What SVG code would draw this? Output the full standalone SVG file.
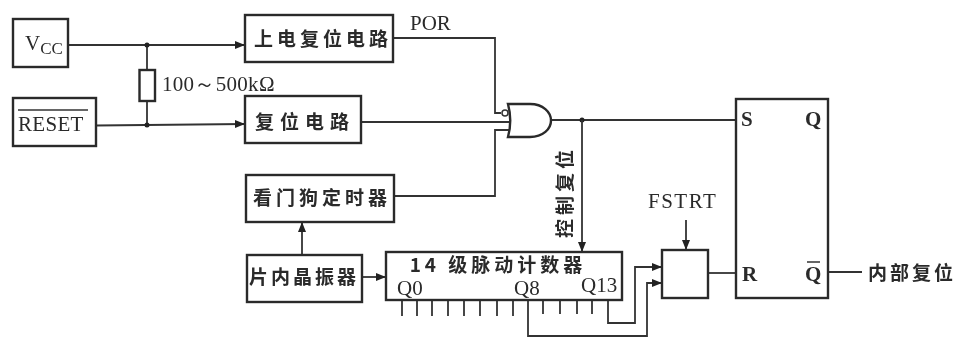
<svg xmlns="http://www.w3.org/2000/svg" width="957" height="338" viewBox="0 0 957 338">
<style>
.b{fill:#fff;stroke:#2a2a2a;stroke-width:2.4}
.w{fill:none;stroke:#333;stroke-width:1.8}
.t{fill:#2a2a2a;font-family:"Liberation Serif",serif;font-size:21px}
.c{fill:#2a2a2a;font-family:"Noto Sans CJK SC",sans-serif;font-size:19px;font-weight:700;text-anchor:middle}
text{filter:url(#s)}
</style>
<defs>
<filter id="s" x="-5%" y="-5%" width="110%" height="110%"><feGaussianBlur stdDeviation="0.45"/></filter>
<marker id="a" markerUnits="userSpaceOnUse" markerWidth="11" markerHeight="10" refX="10" refY="5" orient="auto"><path d="M0 1L10 5L0 9Z" fill="#222"/></marker>
</defs>
<rect width="957" height="338" fill="#fff"/>
<g id="connectors">
<path class="w" d="M68 45H245" marker-end="url(#a)"/>
<path class="w" d="M96 125.500L245 124" marker-end="url(#a)"/>
<path class="w" d="M147 45V70M147 101V125"/>
<circle cx="147" cy="45" r="2.500" fill="#222"/><circle cx="147" cy="125" r="2.500" fill="#222"/>
<path class="w" d="M393 38H495V113H501"/>
<path class="w" d="M361 122H510" stroke-width="1.500"/>
<path class="w" d="M394 196H495V130H510"/>
<path class="w" d="M551 120H736"/>
<circle cx="582" cy="120" r="2.500" fill="#222"/>
<path class="w" d="M582 120V252" marker-end="url(#a)"/>
<path class="w" d="M302 255V222" marker-end="url(#a)"/>
<path class="w" d="M362 277H386" marker-end="url(#a)"/>
<path class="w" d="M686 220V250" marker-end="url(#a)"/>
<path class="w" d="M708 273H736"/>
<path class="w" d="M828 272H862"/>
<path class="w" d="M608 300V323H635V267H662" marker-end="url(#a)"/>
<path class="w" d="M528 300V336H647V283H662" marker-end="url(#a)"/>
<path class="w" d="M402 300V316M417 300V316M432 300V316M448 300V316M464 300V316M480 300V316M497 300V316M513 300V316M543 300V314M560 300V314M577 300V314M592 300V314"/>
</g>
<g id="vcc"><rect class="b" x="13" y="19" width="55" height="48"/><text class="t" x="25" y="50" font-size="22">V<tspan font-size="17" dy="4">CC</tspan></text></g>
<g id="reset"><rect class="b" x="13" y="98" width="83" height="48"/><path d="M18 110H88" stroke="#333" stroke-width="1.500"/><text class="t" x="18" y="131" letter-spacing="0.300">RESET</text></g>
<g id="resistor"><rect class="b" x="139.500" y="70" width="15.500" height="31" stroke-width="1.800"/><text class="t" x="162" y="91" letter-spacing="0.300">100～500kΩ</text></g>
<g id="por-circuit"><rect class="b" x="245" y="15" width="148" height="47"/><text class="c" x="323" y="46" letter-spacing="4">上电复位电路</text><text class="t" x="410" y="30">POR</text></g>
<g id="reset-circuit"><rect class="b" x="245" y="96" width="116" height="47"/><text class="c" x="305" y="129" letter-spacing="6">复位电路</text></g>
<g id="watchdog"><rect class="b" x="246" y="175" width="148" height="47"/><text class="c" x="322" y="205" letter-spacing="4">看门狗定时器</text></g>
<g id="oscillator"><rect class="b" x="247" y="255" width="115" height="47"/><text class="c" x="304" y="284" letter-spacing="3">片内晶振器</text></g>
<g id="counter"><rect class="b" x="386" y="252" width="236" height="48"/>
<text class="c" x="498" y="272" letter-spacing="4">14 级脉动计数器</text>
<text class="t" x="397" y="295">Q0</text><text class="t" x="514" y="295">Q8</text><text class="t" x="581" y="292">Q13</text></g>
<g id="fstrt"><rect class="b" x="662" y="250" width="46" height="48"/><text class="t" x="648" y="208" letter-spacing="1.500">FSTRT</text></g>
<g id="flipflop"><rect class="b" x="736" y="99" width="92" height="199"/>
<text class="t" x="741" y="126" font-weight="700">S</text><text class="t" x="805" y="126" font-weight="700">Q</text>
<text class="t" x="742" y="281" font-weight="700">R</text><text class="t" x="805" y="281" font-weight="700">Q</text><path d="M807 262H820" stroke="#333" stroke-width="1.500"/></g>
<text class="c" x="912" y="280" letter-spacing="3">内部复位</text>
<text class="c" transform="translate(572 192) rotate(-90)" letter-spacing="4">控制复位</text>
<path d="M508 104H530C543 104 551 112 551 120.500C551 129 543 137 530 137H508C511 126 511 115 508 104Z" fill="#fff" stroke="#2a2a2a" stroke-width="2.400" id="gate"/>
<circle cx="505" cy="113" r="3" fill="#fff" stroke="#333" stroke-width="1.500"/>
</svg>
